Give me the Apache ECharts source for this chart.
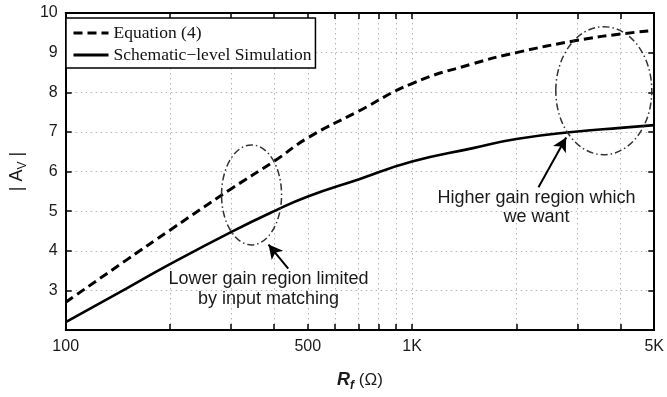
<!DOCTYPE html>
<html><head><meta charset="utf-8">
<script src="https://cdn.jsdelivr.net/npm/echarts@6/dist/echarts.min.js"></script>
<style>html,body{margin:0;padding:0;background:#fff}#c{width:667px;height:397px}</style>
</head><body><div id="c"></div>
<script>
// ---- data ----
const rfValues = [100, 150, 200, 300, 400, 500, 700, 1000, 1500, 2000, 3000, 4000, 5000];
const equationGain = [2.70, 3.77, 4.52, 5.56, 6.26, 6.85, 7.52, 8.22, 8.72, 9.00, 9.31, 9.47, 9.56];
const simulationGain = [2.20, 3.05, 3.66, 4.47, 5.00, 5.37, 5.80, 6.25, 6.59, 6.82, 7.01, 7.10, 7.17];
const xTickValues = [100, 200, 300, 400, 500, 600, 700, 800, 900, 1000, 2000, 3000, 4000, 5000];
const xLabelValues = [100, 500, 1000, 5000];
const xLabelTexts = ['100', '500', '1K', '5K'];
const yTickValues = [3, 4, 5, 6, 7, 8, 9, 10];
const seriesNames = ['Equation (4)', 'Schematic\u2212level Simulation'];
// annotations (data coordinates)
const ellipseCenters = [[344, 5.41], [3576, 8.04]];
const arrowStarts = [[439, 3.55], [2317, 5.60]];
const arrowEnds = [[385, 4.155], [2785, 6.86]];
const noteLines = [['Lower gain region limited', 'by input matching'], ['Higher gain region which', 'we want']];
const noteAnchors = [[[385, 3.29], [385, 2.79]], [[2287, 5.32], [2287, 4.84]]];

const pair = (xs, ys) => xs.map((x, i) => [x, ys[i]]);
const sans = '"Liberation Sans", Arial, sans-serif';
const serif = '"Liberation Serif", "Times New Roman", serif';
const gridLine = { show: true, lineStyle: { color: '#b5b5b5', type: [1.5, 3.5], width: 1 } };
const axisLine = { show: true, onZero: false, lineStyle: { color: '#000', width: 2 } };

function xAxisDef(pos, labels) {
  return {
    type: 'log', logBase: 10, min: 100, max: 5000, position: pos,
    axisLine: axisLine,
    axisTick: { show: true, inside: true, length: 6, lineStyle: { color: '#000', width: 1.5 }, customValues: xTickValues },
    axisLabel: labels ? {
      show: true, customValues: xLabelValues, margin: 9,
      fontFamily: sans, fontSize: 16, color: '#1a1a1a',
      formatter: v => { const i = xLabelValues.indexOf(Math.round(v)); return i >= 0 ? xLabelTexts[i] : ''; }
    } : { show: false },
    splitLine: labels ? gridLine : { show: false },
    name: labels ? '{b|R}{s|f}{n| (\u03A9)}' : '',
    nameLocation: 'middle', nameGap: 38,
    nameTextStyle: {
      rich: {
        b: { fontFamily: sans, fontSize: 18, fontWeight: 'bold', fontStyle: 'italic', color: '#1a1a1a' },
        s: { fontFamily: sans, fontSize: 12, fontWeight: 'bold', fontStyle: 'italic', color: '#1a1a1a', padding: [12, 0, 0, 0] },
        n: { fontFamily: sans, fontSize: 17, color: '#1a1a1a' }
      }
    }
  };
}
function yAxisDef(pos, labels) {
  return {
    type: 'value', min: 2, max: 10, interval: 1, position: pos,
    axisLine: axisLine,
    axisTick: { show: true, inside: true, length: 6, lineStyle: { color: '#000', width: 1.5 }, customValues: yTickValues },
    axisLabel: labels ? {
      show: true, margin: 8, fontFamily: sans, fontSize: 16, color: '#1a1a1a',
      formatter: v => (v === 2 ? '' : String(v))
    } : { show: false },
    splitLine: labels ? gridLine : { show: false },
    name: labels ? '{n|| A}{s|V}{n| |}' : '',
    nameLocation: 'middle', nameGap: 32, nameRotate: 90,
    nameTextStyle: {
      rich: {
        n: { fontFamily: sans, fontSize: 18, color: '#1a1a1a' },
        s: { fontFamily: sans, fontSize: 12, color: '#1a1a1a', padding: [12, 0, 0, 0] }
      }
    }
  };
}

const chart = echarts.init(document.getElementById('c'), null, { renderer: 'canvas' });
chart.setOption({
  animation: false,
  backgroundColor: '#fff',
  grid: { left: 62, right: 10, top: 13, bottom: 53, containLabel: false },
  xAxis: [xAxisDef('bottom', true), xAxisDef('top', false)],
  yAxis: [yAxisDef('left', true), yAxisDef('right', false)],
  legend: {
    show: true, orient: 'vertical', left: 66, top: 18,
    padding: [5, 4, 3, 6], itemGap: 2, itemWidth: 35, itemHeight: 14,
    backgroundColor: '#fff', borderColor: '#000', borderWidth: 1.5, borderRadius: 0,
    itemStyle: { opacity: 0 },
    lineStyle: { width: 3 },
    textStyle: { fontFamily: serif, fontSize: 17.5, color: '#111', lineHeight: 20 },
    data: seriesNames
  },
  series: [
    {
      name: seriesNames[0], type: 'line', smooth: true, symbol: 'none',
      xAxisIndex: 0, yAxisIndex: 0,
      lineStyle: { color: '#000', width: 3, type: [9, 5] },
      itemStyle: { color: '#000' },
      data: pair(rfValues, equationGain), z: 3
    },
    {
      name: seriesNames[1], type: 'line', smooth: true, symbol: 'none',
      xAxisIndex: 0, yAxisIndex: 0,
      lineStyle: { color: '#000', width: 2.6, type: 'solid' },
      itemStyle: { color: '#000' },
      data: pair(rfValues, simulationGain), z: 3,
      markLine: {
        silent: true, symbol: ['none', 'arrow'], symbolSize: [11, 14],
        lineStyle: { color: '#000', width: 2, type: 'solid' },
        label: { show: false },
        data: arrowStarts.map((s, i) => [{ coord: s }, { coord: arrowEnds[i] }])
      }
    }
  ]
});

const toPx = p => chart.convertToPixel({ xAxisIndex: 0, yAxisIndex: 0 }, p);
const ellipseRadii = [[30, 50], [48, 64]];
const graphics = [];
ellipseCenters.forEach((c, i) => {
  const p = toPx(c);
  graphics.push({
    type: 'ellipse', silent: true, z: 10,
    shape: { cx: p[0], cy: p[1], rx: ellipseRadii[i][0], ry: ellipseRadii[i][1] },
    style: { fill: 'none', stroke: '#333', lineWidth: 1.5, lineDash: [7, 3, 1.5, 3] }
  });
});
noteLines.forEach((lines, i) => {
  lines.forEach((t, j) => {
    const p = toPx(noteAnchors[i][j]);
    graphics.push({
      type: 'text', silent: true, z: 10, x: p[0], y: p[1],
      style: { text: t, align: 'center', verticalAlign: 'middle', font: '18px ' + sans, fill: '#1a1a1a' }
    });
  });
});
chart.setOption({ graphic: graphics });
</script>
</body></html>
